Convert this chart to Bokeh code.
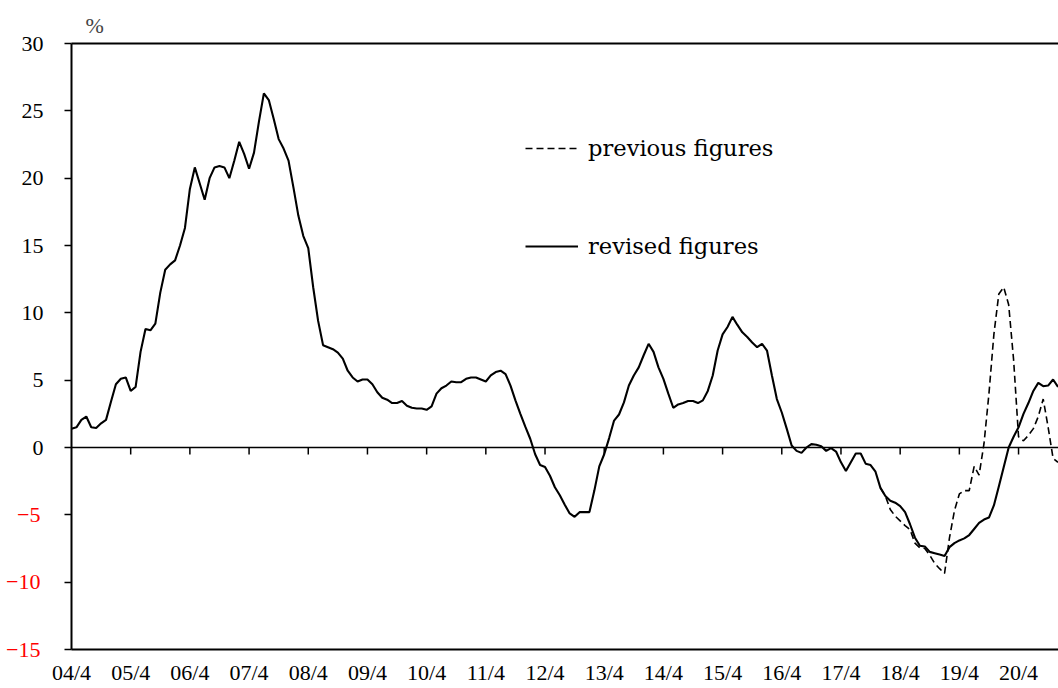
from bokeh.plotting import figure
from bokeh.models import (Range1d, LinearAxis, FixedTicker, Span, Legend, LegendItem)
from bokeh.embed import file_html
from bokeh.resources import INLINE

# Monthly values, 2004/4 (index 0) .. 2020/12 (index 200), %
revised = [
    1.4, 1.5, 2.05, 2.3, 1.5, 1.45, 1.8, 2.05, 3.4, 4.7,
    5.1, 5.2, 4.2, 4.5, 7.1, 8.8, 8.7, 9.2, 11.5, 13.2,
    13.6, 13.9, 15.0, 16.3, 19.2, 20.8, 19.6, 18.4, 20.0, 20.8,
    20.9, 20.8, 20.0, 21.3, 22.7, 21.8, 20.7, 21.9, 24.2, 26.3,
    25.8, 24.4, 22.9, 22.2, 21.3, 19.3, 17.2, 15.7, 14.8, 11.9,
    9.4, 7.6, 7.45, 7.3, 7.05, 6.6, 5.7, 5.2, 4.9, 5.05,
    5.05, 4.7, 4.1, 3.7, 3.55, 3.3, 3.3, 3.45, 3.1, 2.95,
    2.9, 2.9, 2.8, 3.05, 4.0, 4.4, 4.6, 4.9, 4.85, 4.85,
    5.1, 5.2, 5.2, 5.05, 4.9, 5.35, 5.6, 5.7, 5.45, 4.6,
    3.5, 2.5, 1.55, 0.65, -0.5, -1.3, -1.45, -2.1, -2.95, -3.55,
    -4.25, -4.9, -5.15, -4.8, -4.8, -4.8, -3.2, -1.4, -0.5, 0.7,
    2.0, 2.45, 3.35, 4.6, 5.35, 5.95, 6.85, 7.7, 7.1, 5.95,
    5.1, 4.0, 2.95, 3.2, 3.3, 3.45, 3.45, 3.3, 3.5, 4.2,
    5.35, 7.2, 8.4, 8.95, 9.7, 9.1, 8.55, 8.2, 7.8, 7.45,
    7.7, 7.2, 5.35, 3.6, 2.6, 1.4, 0.15, -0.25, -0.4, 0.0,
    0.25, 0.2, 0.1, -0.25, -0.05, -0.3, -1.1, -1.75, -1.1, -0.45,
    -0.45, -1.2, -1.3, -1.8, -3.0, -3.6, -3.95, -4.1, -4.35, -4.8,
    -5.7, -6.7, -7.3, -7.35, -7.75, -7.85, -7.95, -8.05, -7.4, -7.1,
    -6.9, -6.75, -6.5, -6.05, -5.6, -5.35, -5.2, -4.3, -2.9, -1.45,
    0.0, 0.8, 1.5, 2.5, 3.3, 4.2, 4.8, 4.55, 4.6, 5.05,
    4.5,
]

# Previous figures, from index 164 (2018/1) onward
previous_start = 164
previous = [
    -3.0, -3.6, -4.6, -5.1, -5.45, -5.8, -6.1, -7.1, -7.45, -7.5,
    -8.0, -8.6, -9.0, -9.35, -6.7, -4.7, -3.45, -3.2, -3.2, -1.4,
    -2.05, 0.3, 4.0, 8.4, 11.4, 11.9, 10.6, 6.5, 0.8, 0.5,
    0.9, 1.4, 2.3, 3.6, 1.5, -0.8, -1.1,
]

x_tick_labels = ["04/4", "05/4", "06/4", "07/4", "08/4", "09/4", "10/4", "11/4", "12/4",
                 "13/4", "14/4", "15/4", "16/4", "17/4", "18/4", "19/4", "20/4"]
y_ticks = [-15, -10, -5, 0, 5, 10, 15, 20, 25, 30]

months = list(range(len(revised)))
prev_months = list(range(previous_start, previous_start + len(previous)))
x_tick_pos = [12 * k for k in range(len(x_tick_labels))]
neg_ticks = [v for v in y_ticks if v < 0]

SERIF = "Liberation Serif"
LEG_FONT = "DejaVu Serif"
TICK_FS = "22px"

p = figure(width=1058, height=688, output_backend="svg", toolbar_location=None,
           x_range=Range1d(0, 200.1), y_range=Range1d(-15, 30),
           x_axis_location=None, y_axis_location=None,
           min_border_left=71, min_border_top=43, min_border_bottom=39, min_border_right=0,
           title="%")
p.outline_line_color = None
p.background_fill_color = "white"
p.border_fill_color = "white"
p.grid.visible = False
p.title.text_font = SERIF
p.title.text_font_size = "22px"
p.title.text_font_style = "normal"
p.title.align = "left"
p.title.offset = 14
p.title.standoff = 12

# inner left axis: ticks + black labels for non-negative values
yax = LinearAxis(ticker=FixedTicker(ticks=y_ticks),
                 major_label_overrides={v: "" for v in neg_ticks},
                 axis_line_width=2, axis_line_color="black",
                 major_tick_out=7, major_tick_in=0, major_tick_line_width=1.5,
                 minor_tick_line_color=None, major_label_standoff=21,
                 major_label_text_font=SERIF, major_label_text_font_size=TICK_FS,
                 major_label_text_color="black")
p.add_layout(yax, "left")

# outer left axis: red labels for negative values, aligned with inner labels
yax_neg = LinearAxis(ticker=FixedTicker(ticks=neg_ticks),
                     axis_line_color=None, major_tick_line_color=None,
                     major_tick_out=0, major_tick_in=0, minor_tick_line_color=None,
                     major_label_standoff=-22,
                     major_label_text_font=SERIF, major_label_text_font_size=TICK_FS,
                     major_label_text_color="red")
p.add_layout(yax_neg, "left")

# bottom axis with year labels
xax = LinearAxis(ticker=FixedTicker(ticks=x_tick_pos),
                 major_label_overrides={t: l for t, l in zip(x_tick_pos, x_tick_labels)},
                 axis_line_width=2, axis_line_color="black",
                 major_tick_line_color=None, major_tick_out=0, major_tick_in=0,
                 minor_tick_line_color=None, major_label_standoff=10,
                 major_label_text_font=SERIF, major_label_text_font_size=TICK_FS,
                 major_label_text_color="black")
p.add_layout(xax, "below")

# top border
tax = LinearAxis(ticker=FixedTicker(ticks=[]), axis_line_width=2, axis_line_color="black",
                 major_tick_line_color=None, minor_tick_line_color=None,
                 major_tick_out=0, major_label_standoff=0)
p.add_layout(tax, "above")

# zero line with tick marks
p.add_layout(Span(location=0, dimension="width", line_color="black", line_width=1.5))
tick_len = 7 * 45 / 606
p.segment(x0=x_tick_pos[1:], y0=[0] * (len(x_tick_pos) - 1),
          x1=x_tick_pos[1:], y1=[-tick_len] * (len(x_tick_pos) - 1),
          line_color="black", line_width=1.5)

r_prev = p.line(prev_months, previous, line_color="black", line_width=1.6, line_dash="7 4")
r_rev = p.line(months, revised, line_color="black", line_width=2.1)

legend = Legend(items=[LegendItem(label="previous figures", renderers=[r_prev]),
                       LegendItem(label="revised figures", renderers=[r_rev])],
                location=(454, 390), glyph_width=53, glyph_height=26, label_height=26,
                label_standoff=10, spacing=72, padding=0, margin=0,
                border_line_color=None, background_fill_alpha=0,
                label_text_font=LEG_FONT, label_text_font_size="22.6px",
                label_text_color="black")
p.add_layout(legend)

open("out.html", "w").write(file_html(p, INLINE))
